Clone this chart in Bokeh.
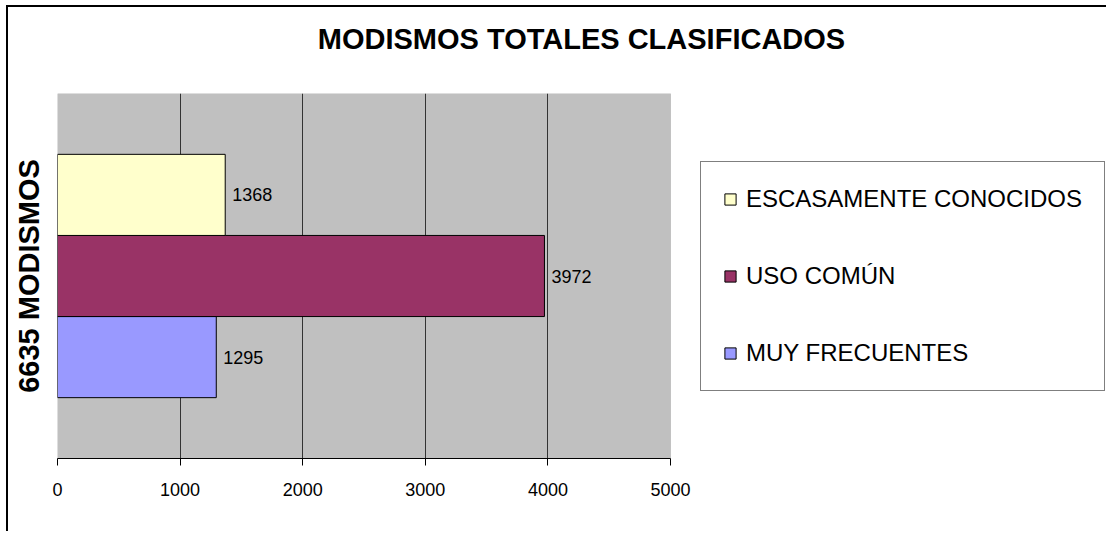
from bokeh.plotting import figure
from bokeh.models import (FactorRange, Range1d, Legend, LegendItem, FixedTicker,
                          ColumnDataSource, BoxAnnotation, LinearAxis)
from bokeh.core.properties import value
from bokeh.embed import file_html
from bokeh.resources import INLINE

# ---- data ----
series = ["MUY FRECUENTES", "USO COMÚN", "ESCASAMENTE CONOCIDOS"]
values = [1295, 3972, 1368]
colors = ["#9999FF", "#993366", "#FFFFCC"]
x_ticks = [0, 1000, 2000, 3000, 4000, 5000]
title_text = "MODISMOS TOTALES CLASIFICADOS"
y_label = "6635 MODISMOS"

FONT = "Liberation Sans"

# ---- layout constants (pixels) ----
W, H = 1100, 526
LEFT, TOP, BOTTOM, RIGHT = 49, 86, 75, 3
PLOT_W = 613                      # width of the grey plotting area
FRAME_W = W - LEFT - RIGHT        # full frame width (plot area + legend space)
x_min, x_max = x_ticks[0], x_ticks[-1]
x_end = x_max * FRAME_W / PLOT_W

source = ColumnDataSource(dict(
    category=series,
    value=values,
    color=colors,
    label=[str(v) for v in values],
))

p = figure(
    width=W, height=H, title=None,
    y_range=FactorRange(factors=series, range_padding=0.75, range_padding_units="absolute"),
    x_range=Range1d(x_min, x_end),
    output_backend="svg", toolbar_location=None,
    min_border_left=LEFT, min_border_right=RIGHT, min_border_top=TOP, min_border_bottom=BOTTOM,
)
p.styles = {"border-left": "2px solid black", "border-top": "2px solid black",
            "margin-left": "6px", "margin-top": "5px"}

p.background_fill_color = "white"
p.border_fill_color = "white"
p.outline_line_color = None

bottom_axis = p.below[0]
left_axis = p.left[0]

# grey plot area
p.add_layout(BoxAnnotation(left=x_min, right=x_max, fill_color="#C0C0C0", fill_alpha=1,
                           line_color="#808080", line_width=1, level="image"))

bars = p.hbar(y="category", left=0, right="value", height=1.0, source=source,
              fill_color="color", line_color="black", line_width=1)

p.text(x="value", y="category", text="label", source=source, x_offset=7,
       text_baseline="middle", text_align="left", text_font_size="18px",
       text_font=value(FONT), text_color="black")

# title, drawn as the label of a bare axis above the plot
title_axis = LinearAxis(axis_label=title_text, ticker=FixedTicker(ticks=[]))
title_axis.axis_line_color = None
title_axis.major_tick_line_color = None
title_axis.minor_tick_line_color = None
title_axis.major_tick_out = 0
title_axis.major_tick_in = 0
title_axis.major_label_standoff = 0
title_axis.major_label_text_font_size = "0px"
title_axis.axis_label_text_font = FONT
title_axis.axis_label_text_font_size = "29px"
title_axis.axis_label_text_font_style = "bold"
title_axis.axis_label_text_color = "black"
title_axis.axis_label_standoff = 39
p.add_layout(title_axis, "above")

# grid
p.ygrid.grid_line_color = None
p.xgrid.grid_line_color = "#333333"
p.xgrid.grid_line_width = 1
p.xgrid.ticker = FixedTicker(ticks=x_ticks[1:-1])

# x axis (bottom)
bottom_axis.ticker = FixedTicker(ticks=x_ticks)
bottom_axis.bounds = (x_min, x_max)
bottom_axis.axis_line_color = "black"
bottom_axis.major_tick_line_color = "black"
bottom_axis.major_tick_out = 7
bottom_axis.major_tick_in = 0
bottom_axis.minor_tick_line_color = None
bottom_axis.major_label_text_font = FONT
bottom_axis.major_label_text_font_size = "18px"
bottom_axis.major_label_text_color = "black"
bottom_axis.major_label_standoff = 17

# y axis
left_axis.axis_label = y_label
left_axis.axis_label_text_font = FONT
left_axis.axis_label_text_font_size = "29px"
left_axis.axis_label_text_font_style = "bold"
left_axis.axis_label_text_color = "black"
left_axis.axis_label_standoff = 7
left_axis.major_label_text_font_size = "0px"
left_axis.major_tick_line_color = None
left_axis.minor_tick_line_color = None
left_axis.axis_line_color = None

# legend (top to bottom order as in the reference)
items = [LegendItem(label=series[i], renderers=[bars], index=i) for i in [2, 1, 0]]
legend = Legend(items=items, location=(PLOT_W + 30, 67))
legend.label_text_font = FONT
legend.label_text_font_size = "24px"
legend.label_text_color = "black"
legend.glyph_width = 14
legend.glyph_height = 14
legend.label_height = 30
legend.label_standoff = 9
legend.spacing = 47
legend.padding = 22
legend.margin = 0
legend.border_line_color = "black"
legend.border_line_width = 1
legend.background_fill_color = "white"
legend.background_fill_alpha = 1
p.add_layout(legend, "center")

open("out.html", "w").write(file_html(p, INLINE))
